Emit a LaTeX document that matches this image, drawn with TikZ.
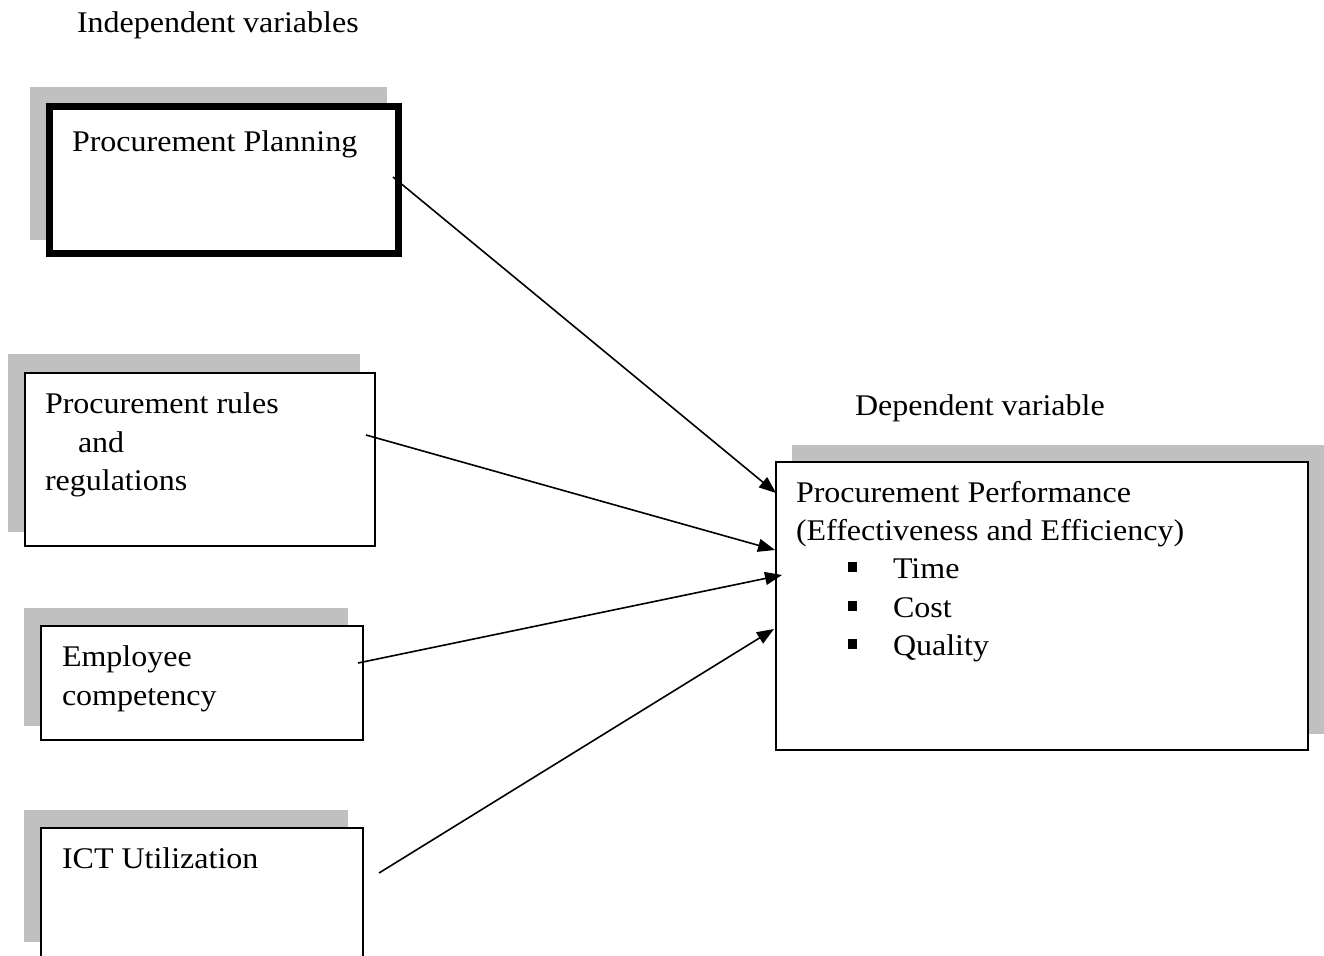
\documentclass[tikz,border=0pt]{standalone}
\usepackage{fontspec}
\setmainfont{Liberation Serif}[FakeStretch=1.067]
\usetikzlibrary{arrows.meta}
\definecolor{shadegray}{RGB}{192,192,192}
\begin{document}
\begin{tikzpicture}[x=1pt,y=-1pt,
  shadowfill/.style={fill=shadegray, draw=none},
  thinbox/.style={draw=black, fill=white, line width=1.8pt, inner sep=0pt, outer sep=0pt, anchor=north west},
  thickbox/.style={thinbox, line width=6.5pt},
  lbl/.style={anchor=base west, inner sep=0pt, outer sep=0pt, font=\fontsize{30}{36}\selectfont},
  conn/.style={line width=1.6pt, -{Triangle[length=17pt,width=13pt]}}]
\useasboundingbox (0,0) rectangle (1324,955);
\fill[white] (0,0) rectangle (1324,955);
\clip (0,0) rectangle (1324,955);

% titles
\node[lbl] (indep) at (77,33) {Independent variables};
\node[lbl] (dep) at (855,415) {Dependent variable};

% shadows
\fill[shadowfill] (30,87) rectangle (387,240);
\fill[shadowfill] (8,354) rectangle (360,532);
\fill[shadowfill] (24,608) rectangle (348,726);
\fill[shadowfill] (24,810) rectangle (348,942);
\fill[shadowfill] (792,445) rectangle (1324,734);

% boxes
\node[thickbox, minimum width=349.4pt, minimum height=147.4pt] (plan) at (49.3,106.3) {};
\node[thinbox, minimum width=349.4pt, minimum height=173.4pt] (rules) at (25.3,372.8) {};
\node[thinbox, minimum width=322.3pt, minimum height=114.3pt] (emp) at (40.7,625.7) {};
\node[thinbox, minimum width=322.3pt, minimum height=180pt] (ict) at (40.7,828.3) {};
\node[thinbox, minimum width=532.6pt, minimum height=288.3pt] (perf) at (775.7,461.7) {};

% box texts
\node[lbl] (t1) at (72,151) {Procurement Planning};
\node[lbl] (t2a) at (45,413) {Procurement rules};
\node[lbl] (t2b) at (78,452) {and};
\node[lbl] (t2c) at (45,490) {regulations};
\node[lbl] (t3a) at (62,666) {Employee};
\node[lbl] (t3b) at (62,705) {competency};
\node[lbl] (t4) at (62,868) {ICT Utilization};
\node[lbl] (t5a) at (796,502) {Procurement Performance};
\node[lbl] (t5b) at (796,540) {(Effectiveness and Efficiency)};
\node[lbl] (b1) at (848,578) {\rule[6pt]{9pt}{10pt}};
\node[lbl] (b2) at (848,617) {\rule[6pt]{9pt}{10pt}};
\node[lbl] (b3) at (848,655) {\rule[6pt]{9pt}{10pt}};
\node[lbl] (i1) at (893,578) {Time};
\node[lbl] (i2) at (893,617) {Cost};
\node[lbl] (i3) at (893,655) {Quality};

% connector ends
\coordinate (s1) at (393,177);
\coordinate (s2) at (366,435);
\coordinate (s3) at (358,663);
\coordinate (s4) at (379,873);
\coordinate (e1) at (776,493);
\coordinate (e2) at (775,550);
\coordinate (e3) at (782,575);
\coordinate (e4) at (774,629);

\draw[conn] (s1) -- (e1);
\draw[conn] (s2) -- (e2);
\draw[conn] (s3) -- (e3);
\draw[conn] (s4) -- (e4);
\end{tikzpicture}
\end{document}
